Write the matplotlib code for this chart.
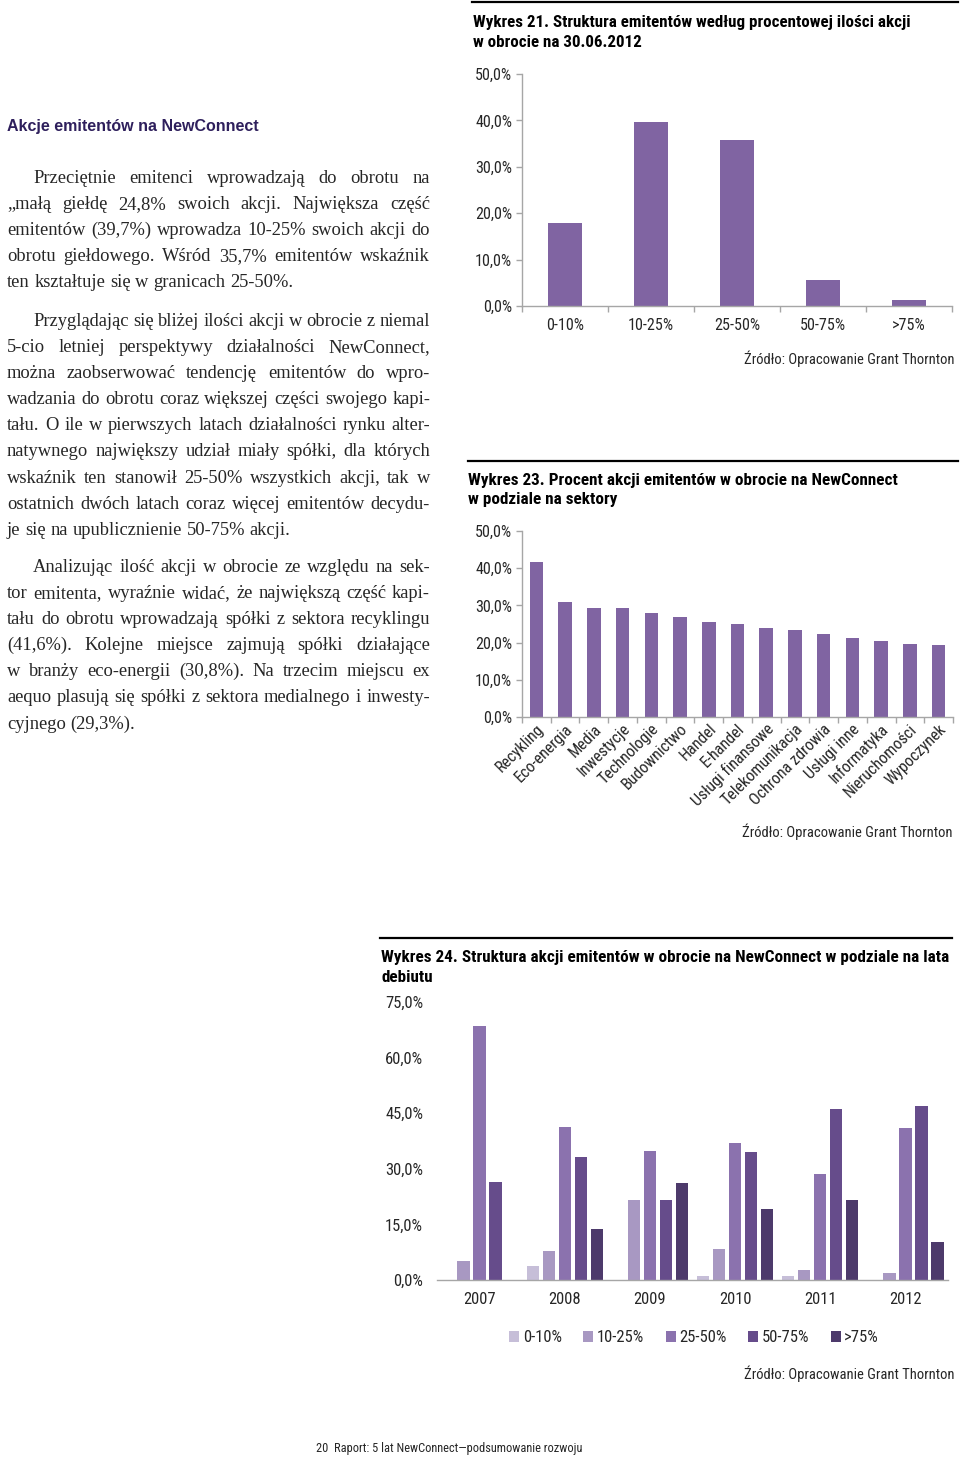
import matplotlib
matplotlib.use('Agg')
import matplotlib.pyplot as plt
from matplotlib import font_manager
from matplotlib.font_manager import FontProperties
from matplotlib.lines import Line2D
from matplotlib.patches import Patch
from matplotlib.ticker import FixedLocator, FuncFormatter
from matplotlib.transforms import ScaledTranslation
import numpy as np

# ---------------- data ----------------
dist_labels = ['0-10%', '10-25%', '25-50%', '50-75%', '>75%']
dist_values = [17.8, 39.7, 35.7, 5.5, 1.3]

sectors = ['Recykling', 'Eco-energia', 'Media', 'Inwestycje', 'Technologie',
           'Budownictwo', 'Handel', 'E-handel', 'Usługi finansowe',
           'Telekomunikacja', 'Ochrona zdrowia', 'Usługi inne', 'Informatyka',
           'Nieruchomości', 'Wypoczynek']
sector_values = [41.6, 30.8, 29.3, 29.3, 27.9, 26.8, 25.5, 25.0, 23.9, 23.5,
                 22.4, 21.3, 20.4, 19.6, 19.4]

years = ['2007', '2008', '2009', '2010', '2011', '2012']
share_0_10 = [0.0, 3.9, 0.0, 1.1, 1.1, 0.0]
share_10_25 = [5.2, 7.8, 21.6, 8.3, 2.8, 2.0]
share_25_50 = [68.6, 41.2, 34.7, 36.9, 28.5, 40.9]
share_50_75 = [26.4, 33.3, 21.6, 34.4, 46.0, 47.0]
share_over_75 = [0.0, 13.7, 26.1, 19.1, 21.6, 10.2]
year_series_labels = ['0-10%', '10-25%', '25-50%', '50-75%', '>75%']

dist_ticks = [0, 10, 20, 30, 40, 50]
year_ticks = [0, 15, 30, 45, 60, 75]

# ---------------- fonts ----------------
W, H = 960, 1458
SANS = 'Liberation Sans'
SERIF = 'Liberation Serif'


def _w(f):
    w = f.weight
    if isinstance(w, str):
        return {'bold': 700, 'normal': 400, 'regular': 400, 'book': 400,
                'medium': 500, 'semibold': 600, 'light': 300}.get(w.lower(), 400)
    return int(w)


FAM_PREF = ['Liberation Sans Narrow', 'Arial Narrow', 'Roboto Condensed',
            'Noto Sans', 'Noto Sans Condensed', 'Open Sans', 'Open Sans Condensed',
            'Roboto', 'DejaVu Sans', 'DejaVu Sans Condensed']
STR_PREF = {'condensed': 0, 'semi-condensed': 1, 'extra-condensed': 2}


def find_narrow(bold):
    best = None
    for f in font_manager.fontManager.ttflist:
        if f.style != 'normal':
            continue
        st = f.stretch if isinstance(f.stretch, str) else 'normal'
        is_narrow = ('Narrow' in f.name or 'Condensed' in f.name or st in STR_PREF)
        if not is_narrow:
            continue
        if 'Mono' in f.name or 'Serif' in f.name:
            continue
        wt = _w(f)
        if bold and wt < 600:
            continue
        if not bold and not (350 <= wt <= 450):
            continue
        fam_rank = FAM_PREF.index(f.name) if f.name in FAM_PREF else 50
        st_rank = STR_PREF.get(st, 0 if ('Narrow' in f.name or 'Condensed' in f.name) else 3)
        score = (fam_rank, st_rank, abs(wt - (700 if bold else 400)))
        if best is None or score < best[0]:
            best = (score, f.fname)
    return best[1] if best else None


NARROW_R = find_narrow(False)
NARROW_B = find_narrow(True)


def fpn(size, bold=False):
    fn = NARROW_B if bold else NARROW_R
    if fn:
        return FontProperties(fname=fn, size=size)
    return FontProperties(family=SANS, size=size, weight='bold' if bold else 'normal')


BAR = '#8064A2'
AXC = '#A6A6A6'
TXT = '#262626'
year_colors = ['#C6BED8', '#A898C2', '#8B72AE', '#664C8B', '#4D3A6B']

fig = plt.figure(figsize=(W / 100, H / 100), dpi=100)
renderer = fig.canvas.get_renderer()


def fx(x):
    return x / W


def fy(y):
    return 1 - y / H


def rect(l, t, r, b):
    return [l / W, 1 - b / H, (r - l) / W, (b - t) / H]


def twidth_fp(s, fp):
    t = fig.text(0, 0, s, fontproperties=fp)
    w = t.get_window_extent(renderer).width
    t.remove()
    return w


def twidth(s, fs, family, weight='normal'):
    return twidth_fp(s, FontProperties(family=family, weight=weight, size=fs))


def fit_size(s, target, family, weight='normal'):
    return 10 * target / twidth(s, 10, family, weight)


def fit_n(s, target, bold=False):
    return 10 * target / twidth_fp(s, fpn(10, bold))


def rule(x0, x1, y):
    fig.add_artist(Line2D([fx(x0), fx(x1)], [fy(y), fy(y)], color='black', lw=1.6))


pct = FuncFormatter(lambda v, p: f"{v:.1f}%".replace('.', ','))

# ---------------- left column text ----------------
heading = 'Akcje emitentów na NewConnect'
hs = fit_size(heading, 250, SANS, 'bold')
fig.text(fx(7), fy(131), heading, fontsize=hs, family=SANS, weight='bold',
         color='#2E1F5C', va='baseline')

paragraphs = [
    (183, ["Przeciętnie emitenci wprowadzają do obrotu na",
           "„małą giełdę 24,8% swoich akcji. Największa część",
           "emitentów (39,7%) wprowadza 10-25% swoich akcji do",
           "obrotu giełdowego. Wśród 35,7% emitentów wskaźnik",
           "ten kształtuje się w granicach 25-50%."]),
    (326, ["Przyglądając się bliżej ilości akcji w obrocie z niemal",
           "5-cio letniej perspektywy działalności NewConnect,",
           "można zaobserwować tendencję emitentów do wpro-",
           "wadzania do obrotu coraz większej części swojego kapi-",
           "tału. O ile w pierwszych latach działalności rynku alter-",
           "natywnego największy udział miały spółki, dla których",
           "wskaźnik ten stanowił 25-50% wszystkich akcji, tak w",
           "ostatnich dwóch latach coraz więcej emitentów decydu-",
           "je się na upublicznienie 50-75% akcji."]),
    (572, ["Analizując ilość akcji w obrocie ze względu na sek-",
           "tor emitenta, wyraźnie widać, że największą część kapi-",
           "tału do obrotu wprowadzają spółki z sektora recyklingu",
           "(41,6%). Kolejne miejsce zajmują spółki działające",
           "w branży eco-energii (30,8%). Na trzecim miejscu ex",
           "aequo plasują się spółki z sektora medialnego i inwesty-",
           "cyjnego (29,3%)."]),
]
X0, X1, IND, LS = 7, 430, 26, 26.1

fs = fit_size(paragraphs[0][1][-1], 286, SERIF)
sp10 = twidth('a a', 10, SERIF) - twidth('aa', 10, SERIF)
for _, lines in paragraphs:
    for i, ln in enumerate(lines[:-1]):
        words = ln.split(' ')
        avail = (X1 - X0) - (IND if i == 0 else 0)
        need = sum(twidth(w, 10, SERIF) for w in words) + (len(words) - 1) * 0.75 * sp10
        fs = min(fs, 10 * avail / need)

sp = sp10 * fs / 10
for ytop, lines in paragraphs:
    for i, ln in enumerate(lines):
        y = ytop + i * LS
        words = ln.split(' ')
        ws = [twidth(w, fs, SERIF) for w in words]
        x = X0 + (IND if i == 0 else 0)
        if i < len(lines) - 1 and len(words) > 1:
            gap = (X1 - x - sum(ws)) / (len(words) - 1)
        else:
            gap = sp
        for w, wd in zip(words, ws):
            fig.text(fx(x), fy(y), w, fontsize=fs, family=SERIF, color=TXT,
                     va='baseline', ha='left')
            x += wd + gap

# ---------------- Chart 21 ----------------
rule(472, 958, 2)
t21 = 'Wykres 21. Struktura emitentów według procentowej ilości akcji'
ts = fit_n(t21, 437, True)
fig.text(fx(473), fy(27), t21, fontproperties=fpn(ts, True), color='black', va='baseline')
fig.text(fx(473), fy(47), 'w obrocie na 30.06.2012', fontproperties=fpn(ts, True),
         color='black', va='baseline')

ax1 = fig.add_axes(rect(522, 74, 952, 306))
ax1.bar(np.arange(len(dist_values)), dist_values, width=0.4, color=BAR)
ax1.set_xlim(-0.5, len(dist_values) - 0.5)
ax1.set_ylim(0, 50)
ax1.yaxis.set_major_locator(FixedLocator(dist_ticks))
ax1.yaxis.set_major_formatter(pct)
ax1.set_xticks(np.arange(len(dist_labels)))
ax1.set_xticklabels(dist_labels)
ax1.set_xticks(np.arange(-0.5, len(dist_labels)), minor=True)

# ---------------- Chart 23 ----------------
rule(468, 958, 461)
t23 = 'Wykres 23. Procent akcji emitentów w obrocie na NewConnect'
ts23 = fit_n(t23, 427, True)
fig.text(fx(468), fy(485), t23, fontproperties=fpn(ts23, True), color='black', va='baseline')
fig.text(fx(468), fy(504), 'w podziale na sektory', fontproperties=fpn(ts23, True),
         color='black', va='baseline')

ax2 = fig.add_axes(rect(522, 531, 953, 717))
ax2.bar(np.arange(len(sector_values)), sector_values, width=0.47, color=BAR)
ax2.set_xlim(-0.5, len(sector_values) - 0.5)
ax2.set_ylim(0, 50)
ax2.yaxis.set_major_locator(FixedLocator(dist_ticks))
ax2.yaxis.set_major_formatter(pct)
ax2.set_xticks(np.arange(len(sectors)))
ax2.set_xticklabels(sectors, rotation=45, ha='right', va='center', rotation_mode='anchor')
ax2.set_xticks(np.arange(-0.5, len(sectors)), minor=True)

tick_fs = fit_n('50,0%', 37)
for ax in (ax1, ax2):
    for s in ('top', 'right'):
        ax.spines[s].set_visible(False)
    for s in ('left', 'bottom'):
        ax.spines[s].set_color(AXC)
        ax.spines[s].set_linewidth(1.0)
    ax.tick_params(axis='y', which='major', direction='out', length=4, width=1, color=AXC,
                   pad=3, labelcolor=TXT)
    ax.tick_params(axis='x', which='major', length=0, labelcolor=TXT)
    ax.tick_params(axis='x', which='minor', direction='out', length=4, width=1, color=AXC)
    for lab in ax.get_yticklabels() + ax.get_xticklabels():
        lab.set_fontproperties(fpn(tick_fs))

ax1.tick_params(axis='x', which='major', pad=9)
ax2.tick_params(axis='x', which='major', pad=7)
for lab in ax2.get_xticklabels():
    lab.set_transform(lab.get_transform() + ScaledTranslation(5 / 100, 0, fig.dpi_scale_trans))

src = 'Źródło: Opracowanie Grant Thornton'
src_fs = fit_n(src, 210)
fig.text(fx(955), fy(364), src, fontproperties=fpn(src_fs), color=TXT, ha='right', va='baseline')
fig.text(fx(953), fy(837), src, fontproperties=fpn(src_fs), color=TXT, ha='right', va='baseline')

# ---------------- Chart 24 ----------------
rule(380, 952, 938)
t24 = 'Wykres 24. Struktura akcji emitentów w obrocie na NewConnect w podziale na lata'
ts24 = fit_n(t24, 565, True)
fig.text(fx(381), fy(962), t24, fontproperties=fpn(ts24, True), color='black', va='baseline')
fig.text(fx(381), fy(982), 'debiutu', fontproperties=fpn(ts24, True), color='black', va='baseline')

ax3 = fig.add_axes(rect(437, 1002, 948, 1280))
xs = np.arange(len(years))
series = [share_0_10, share_10_25, share_25_50, share_50_75, share_over_75]
pitch, bw = 0.188, 0.146
for i, (vals, col) in enumerate(zip(series, year_colors)):
    ax3.bar(xs + (i - 2) * pitch, vals, width=bw, color=col)
ax3.set_xlim(-0.5, len(years) - 0.5)
ax3.set_ylim(0, 75)
ax3.yaxis.set_major_locator(FixedLocator(year_ticks))
ax3.yaxis.set_major_formatter(pct)
ax3.set_xticks(xs)
ax3.set_xticklabels(years)
for s in ('top', 'right', 'left'):
    ax3.spines[s].set_visible(False)
ax3.spines['bottom'].set_color(AXC)
ax3.spines['bottom'].set_linewidth(1.0)
ax3.tick_params(axis='y', length=0, pad=10, labelcolor=TXT)
ax3.tick_params(axis='x', length=0, pad=9, labelcolor=TXT)
big_fs = fit_n('75,0%', 38)
for lab in ax3.get_yticklabels() + ax3.get_xticklabels():
    lab.set_fontproperties(fpn(big_fs))

leg_fs = fit_n('0-10%', 39)
handles = [Patch(facecolor=c, edgecolor='none') for c in year_colors]
fig.legend(handles, year_series_labels, loc='center', bbox_to_anchor=(fx(694), fy(1338)),
           ncol=5, frameon=False, handlelength=0.6, handleheight=0.6, handletextpad=0.2,
           columnspacing=1.3, prop=fpn(leg_fs), labelcolor=TXT)

fig.text(fx(955), fy(1379), src, fontproperties=fpn(src_fs), color=TXT, ha='right', va='baseline')

# ---------------- footer ----------------
foot = '20  Raport: 5 lat NewConnect—podsumowanie rozwoju'
ffs = fit_n(foot, 264)
fig.text(fx(316), fy(1452), foot, fontproperties=fpn(ffs), color=TXT, va='baseline')

fig.savefig('out.png', dpi=100, facecolor='white')
